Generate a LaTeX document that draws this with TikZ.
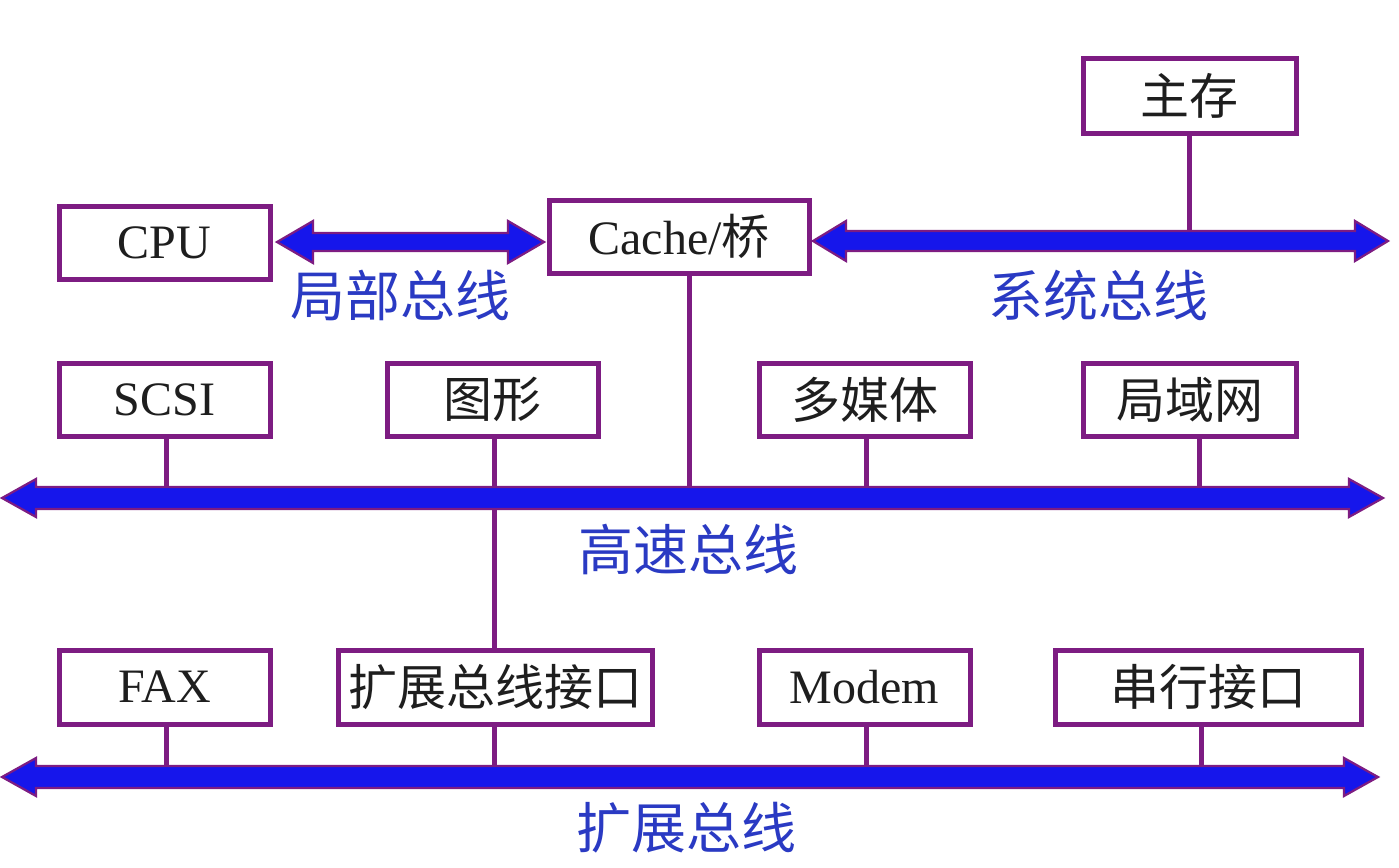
\documentclass[tikz,border=0pt]{standalone}
\usepackage{fontspec}
\setmainfont{Liberation Serif}
\newfontfamily\cjk{Noto Sans CJK SC}
\definecolor{boxline}{RGB}{125,28,130}
\definecolor{busfill}{RGB}{22,22,235}
\definecolor{labelblue}{RGB}{42,58,195}
\definecolor{txt}{RGB}{30,30,30}
\newcommand\busarrow[6]{%
  \filldraw[busstyle] (#1,#3) -- ++(#6,-#5) -- ++(0,#5-#4) -- (#2-#6,#3-#4) -- ++(0,#4-#5)
    -- (#2,#3) -- ++(-#6,#5) -- ++(0,#4-#5) -- (#1+#6,#3+#4) -- ++(0,#5-#4) -- cycle;}
\tikzset{
  unit/.style={draw=boxline, line width=5pt, fill=white, inner sep=0pt, text=txt,
    font=\fontsize{48}{52}\selectfont},
  cjkunit/.style={unit, font=\fontsize{49}{52}\selectfont\cjk},
  busstyle/.style={fill=busfill, draw=boxline, line width=2.2pt, line join=miter},
  link/.style={draw=boxline, line width=5pt},
  buslabel/.style={text=labelblue, font=\fontsize{55}{60}\selectfont\cjk, inner sep=0pt}
}
\begin{document}
\begin{tikzpicture}[x=1pt,y=-1pt]
\useasboundingbox (0,0) rectangle (1399,867);
% bus centre coordinates
\coordinate (lbus) at (410,242);
\coordinate (sbus) at (1100,241);
\coordinate (hbus) at (690,498);
\coordinate (ebus) at (690,777);
% boxes
\node[cjkunit, minimum width=213pt, minimum height=74pt] (mem)   at (1189.5,96)  {主存};
\node[unit, minimum width=211pt, minimum height=73pt] (cpu)   at (164.5,242.5) {CPU};
\node[unit, minimum width=260pt, minimum height=73pt] (cache) at (679,236.5)  {Cache/{\cjk 桥}};
\node[unit, minimum width=211pt, minimum height=73pt] (scsi)  at (164.5,399.5) {SCSI};
\node[cjkunit, minimum width=211pt, minimum height=73pt] (gfx)   at (492.5,399.5) {图形};
\node[cjkunit, minimum width=211pt, minimum height=73pt] (media) at (864.5,399.5) {多媒体};
\node[cjkunit, minimum width=213pt, minimum height=73pt] (lan)   at (1189.5,399.5) {局域网};
\node[unit, minimum width=211pt, minimum height=74pt] (fax)   at (164.5,687) {FAX};
\node[cjkunit, minimum width=314pt, minimum height=74pt] (ebi)   at (495,687) {扩展总线接口};
\node[unit, minimum width=211pt, minimum height=74pt] (modem) at (864.5,687) {Modem};
\node[cjkunit, minimum width=306pt, minimum height=74pt] (ser)   at (1208,687) {串行接口};
% connectors
\draw[link] (mem.south) -- (mem.south |- sbus);
\draw[link] ([xshift=10pt]cache.south) -- ([xshift=10pt]cache.south |- hbus);
\draw[link] ([xshift=1.5pt]scsi.south) -- ([xshift=1.5pt]scsi.south |- hbus);
\draw[link] ([xshift=1.5pt]gfx.south) -- ([xshift=1.5pt]gfx.south |- ebi.north);
\draw[link] ([xshift=1.5pt]media.south) -- ([xshift=1.5pt]media.south |- hbus);
\draw[link] ([xshift=9.5pt]lan.south) -- ([xshift=9.5pt]lan.south |- hbus);
\draw[link] ([xshift=1.5pt]fax.south) -- ([xshift=1.5pt]fax.south |- ebus);
\draw[link] ([xshift=-1pt]ebi.south) -- ([xshift=-1pt]ebi.south |- ebus);
\draw[link] ([xshift=1.5pt]modem.south) -- ([xshift=1.5pt]modem.south |- ebus);
\draw[link] ([xshift=-7pt]ser.south) -- ([xshift=-7pt]ser.south |- ebus);
% buses
\busarrow{277}{544}{242}{9}{21}{36}
\busarrow{813}{1388}{241}{10}{20}{33}
\busarrow{2}{1383}{498}{11}{19}{34}
\busarrow{2}{1378}{777}{11}{19}{34}
% labels
\node[buslabel] (llab) at (400,295) {局部总线};
\node[buslabel] (slab) at (1098,295) {系统总线};
\node[buslabel] (hlab) at (688,549) {高速总线};
\node[buslabel] (elab) at (686,828) {扩展总线};
\end{tikzpicture}
\end{document}
